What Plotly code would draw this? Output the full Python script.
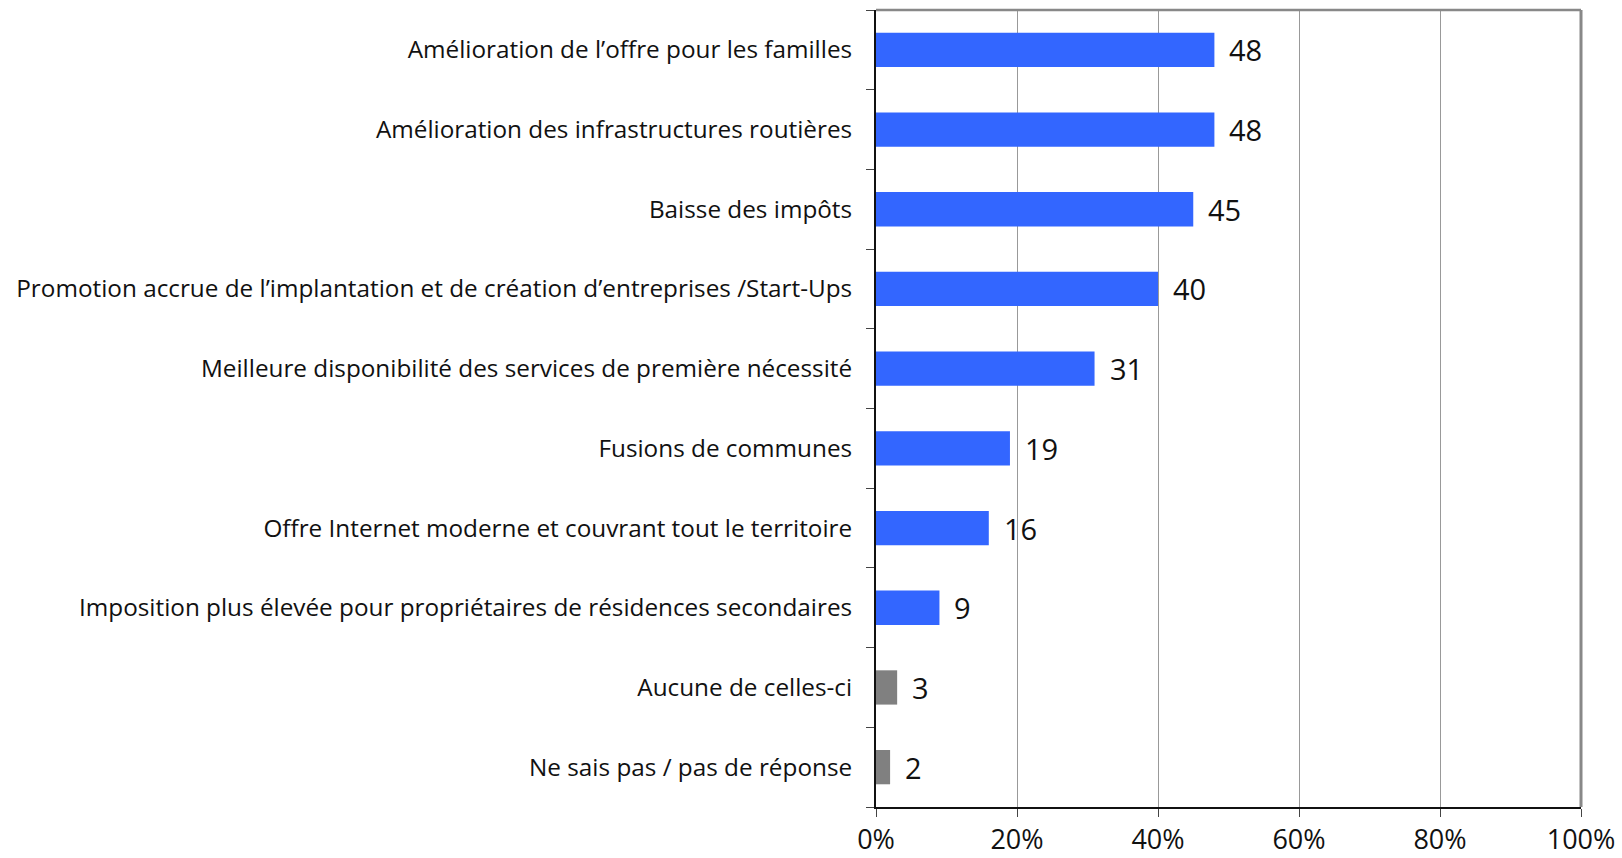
import plotly.graph_objects as go

categories = [
    "Amélioration de l’offre pour les familles",
    "Amélioration des infrastructures routières",
    "Baisse des impôts",
    "Promotion accrue de l’implantation et de création d’entreprises /Start-Ups",
    "Meilleure disponibilité des services de première nécessité",
    "Fusions de communes",
    "Offre Internet moderne et couvrant tout le territoire",
    "Imposition plus élevée pour propriétaires de résidences secondaires",
    "Aucune de celles-ci",
    "Ne sais pas / pas de réponse",
]
values = [48, 48, 45, 40, 31, 19, 16, 9, 3, 2]
colors = ["#3366FF"] * 8 + ["#808080"] * 2
x_ticks = [0, 20, 40, 60, 80, 100]
x_tick_labels = ["0%", "20%", "40%", "60%", "80%", "100%"]

FONT = "Open Sans"

fig = go.Figure(
    go.Bar(
        y=categories,
        x=values,
        orientation="h",
        marker=dict(color=colors, line=dict(width=0)),
        width=0.43,
        hoverinfo="skip",
    )
)

# value labels to the right of each bar
for cat, v in zip(categories, values):
    fig.add_annotation(
        x=v, y=cat, text=str(v), showarrow=False,
        xanchor="left", yanchor="middle", xshift=13,
        font=dict(family=FONT, size=29, color="#111111"),
    )

# grey frame on top and right
fig.add_shape(type="line", xref="paper", yref="paper", x0=0, x1=1, y0=1, y1=1,
              line=dict(color="#888888", width=2.5))
fig.add_shape(type="line", xref="paper", yref="paper", x0=1, x1=1, y0=0, y1=1,
              line=dict(color="#888888", width=3))

fig.update_layout(
    width=1622, height=858,
    margin=dict(l=876, r=41, t=10, b=51),
    paper_bgcolor="white", plot_bgcolor="white",
    showlegend=False,
    font=dict(family=FONT, size=24, color="#111111"),
    xaxis=dict(
        range=[0, 100], tickvals=x_ticks, ticktext=x_tick_labels,
        showgrid=True, gridcolor="#999999", gridwidth=1,
        zeroline=False, showline=True, linecolor="#111111", linewidth=2,
        ticks="outside", ticklen=8, tickcolor="#444444", tickwidth=1,
        tickfont=dict(family=FONT, size=27, color="#111111"),
        automargin=False,
        fixedrange=True,
    ),
    yaxis=dict(
        categoryorder="array", categoryarray=categories[::-1],
        showline=True, linecolor="#111111", linewidth=2,
        ticks="outside", ticklen=8, tickcolor="#444444", tickwidth=1,
        tickson="boundaries", showgrid=False, zeroline=False,
        tickfont=dict(family=FONT, size=24.3, color="#111111"),
        ticklabelstandoff=17, automargin=False,
        fixedrange=True,
    ),
)

fig.write_html("out.html", config={"displayModeBar": False})
